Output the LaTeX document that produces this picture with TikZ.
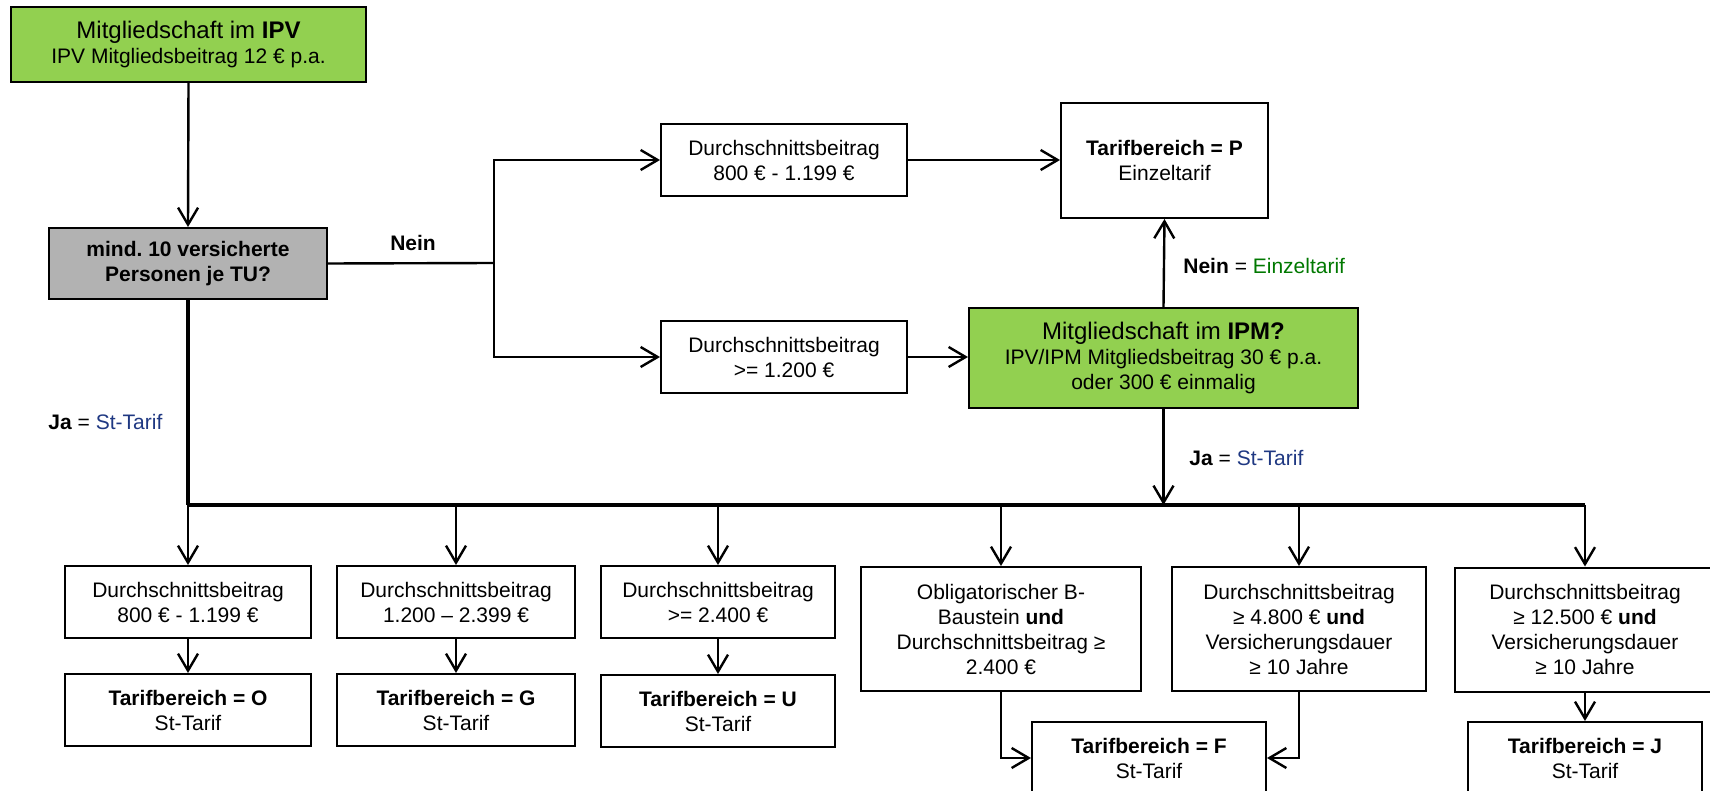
\documentclass[tikz,border=0pt]{standalone}
\usepackage{fontspec}
\setmainfont{Liberation Sans}
\usetikzlibrary{arrows.meta}
\definecolor{boxgreen}{HTML}{92D050}
\definecolor{boxgray}{HTML}{B2B2B2}
\definecolor{stblue}{RGB}{31,56,130}
\definecolor{ezgreen}{RGB}{0,120,0}
\newcommand{\nf}{\fontsize{10.5}{12.5}\selectfont}
\newcommand{\bigf}{\fontsize{12}{14}\selectfont}
\frenchspacing
\begin{document}
\begin{tikzpicture}[x=0.5pt,y=-0.5pt,
  box/.style={draw, line width=1pt, inner sep=0pt, align=center, font=\nf},
  arr/.style={line width=1.2pt, -{Straight Barb[length=8.5pt,width=10pt]}},
  ln/.style={line width=1.2pt},
  busline/.style={line width=1.6pt},
  lbl/.style={font=\nf, inner sep=0pt}]
\useasboundingbox (0,0) rectangle (1710,791);
\clip (0,0) rectangle (1710,791);

% top part
\node[box, fill=boxgreen, minimum width=177.5pt, minimum height=37.5pt] (ipv) at (188.5,44.5)
  {{\bigf Mitgliedschaft im \textbf{IPV}}\\IPV Mitgliedsbeitrag 12 € p.a.};
\node[box, fill=boxgray, minimum width=139pt, minimum height=35.5pt, font=\nf\bfseries] (q) at (188,263.5)
  {mind. 10 versicherte\\Personen je TU?};
\node[box, minimum width=123pt, minimum height=36pt] (d1) at (784,160)
  {Durchschnittsbeitrag\\800 € - 1.199 €};
\node[box, minimum width=123pt, minimum height=36pt] (d2) at (784,357)
  {Durchschnittsbeitrag\\>= 1.200 €};
\node[box, minimum width=103.5pt, minimum height=57.5pt] (p) at (1164.5,160.5)
  {\textbf{Tarifbereich = P}\\Einzeltarif};
\node[box, fill=boxgreen, minimum width=194.5pt, minimum height=50pt] (ipm) at (1163.5,358)
  {{\bigf Mitgliedschaft im \textbf{IPM?}}\\IPV/IPM Mitgliedsbeitrag 30 € p.a.\\oder 300 € einmalig};

% labels
\node[lbl, font=\nf\bfseries] (nein1) at (413,243) {Nein};
\node[lbl, anchor=west] (ja1) at (48,422) {\textbf{Ja} = \textcolor{stblue}{St-Tarif}};
\node[lbl, anchor=west] (nein2) at (1183,266) {\textbf{Nein} = \textcolor{ezgreen}{Einzeltarif}};
\node[lbl, anchor=west] (ja2) at (1189,458) {\textbf{Ja} = \textcolor{stblue}{St-Tarif}};

% bottom row conditions
\node[box, minimum width=123pt, minimum height=36pt] (o1) at (188,602)
  {Durchschnittsbeitrag\\800 € - 1.199 €};
\node[box, minimum width=119pt, minimum height=36pt] (g1) at (456,602)
  {Durchschnittsbeitrag\\1.200 – 2.399 €};
\node[box, minimum width=117pt, minimum height=36pt] (u1) at (718,602)
  {Durchschnittsbeitrag\\>= 2.400 €};
\node[box, minimum width=140pt, minimum height=62pt] (b) at (1001,629)
  {Obligatorischer B-\\Baustein \textbf{und}\\Durchschnittsbeitrag ≥\\2.400 €};
\node[box, minimum width=127pt, minimum height=62pt] (c) at (1299,629)
  {Durchschnittsbeitrag\\≥ 4.800 € \textbf{und}\\Versicherungsdauer\\≥ 10 Jahre};
\node[box, minimum width=130pt, minimum height=62pt] (dd) at (1585,629.5)
  {Durchschnittsbeitrag\\≥ 12.500 € \textbf{und}\\Versicherungsdauer\\≥ 10 Jahre};

% results
\node[box, minimum width=123pt, minimum height=36pt] (o) at (188,710)
  {\textbf{Tarifbereich = O}\\St-Tarif};
\node[box, minimum width=119pt, minimum height=36pt] (g) at (456,710)
  {\textbf{Tarifbereich = G}\\St-Tarif};
\node[box, minimum width=117pt, minimum height=36pt] (u) at (718,711)
  {\textbf{Tarifbereich = U}\\St-Tarif};
\node[box, minimum width=117pt, minimum height=36pt] (f) at (1149,758)
  {\textbf{Tarifbereich = F}\\St-Tarif};
\node[box, minimum width=117pt, minimum height=36pt] (j) at (1585,758)
  {\textbf{Tarifbereich = J}\\St-Tarif};

% coordinates
\coordinate (jn) at (494,263);
\coordinate (busl) at (188,505);
\coordinate (busr) at (1585,505);

% connectors top
\draw[arr] (ipv.south) -- (q.north);
\draw[ln] (q.east) -- (jn);
\draw[arr] (jn) |- (d1.west);
\draw[arr] (jn) |- (d2.west);
\draw[arr] (d1.east) -- (d1.east -| p.west);
\draw[arr] (d2.east) -- (d2.east -| ipm.west);
\draw[arr] (ipm.north) -- (p.south);
\draw[arr] (ipm.south) -- (ipm.south |- busl);

% bus
\draw[busline] (q.south) -- (busl);
\draw[busline] (busl) -- (busr);
\draw[arr] (busl) -- (o1.north);
\draw[arr] (g1.north |- busl) -- (g1.north);
\draw[arr] (u1.north |- busl) -- (u1.north);
\draw[arr] (b.north |- busl) -- (b.north);
\draw[arr] (c.north |- busl) -- (c.north);
\draw[arr] (dd.north |- busl) -- (dd.north);

% down to results
\draw[arr] (o1.south) -- (o.north);
\draw[arr] (g1.south) -- (g.north);
\draw[arr] (u1.south) -- (u.north);
\draw[arr] (b.south) |- (f.west);
\draw[arr] (c.south) |- (f.east);
\draw[arr] (dd.south) -- (j.north);
\end{tikzpicture}
\end{document}
